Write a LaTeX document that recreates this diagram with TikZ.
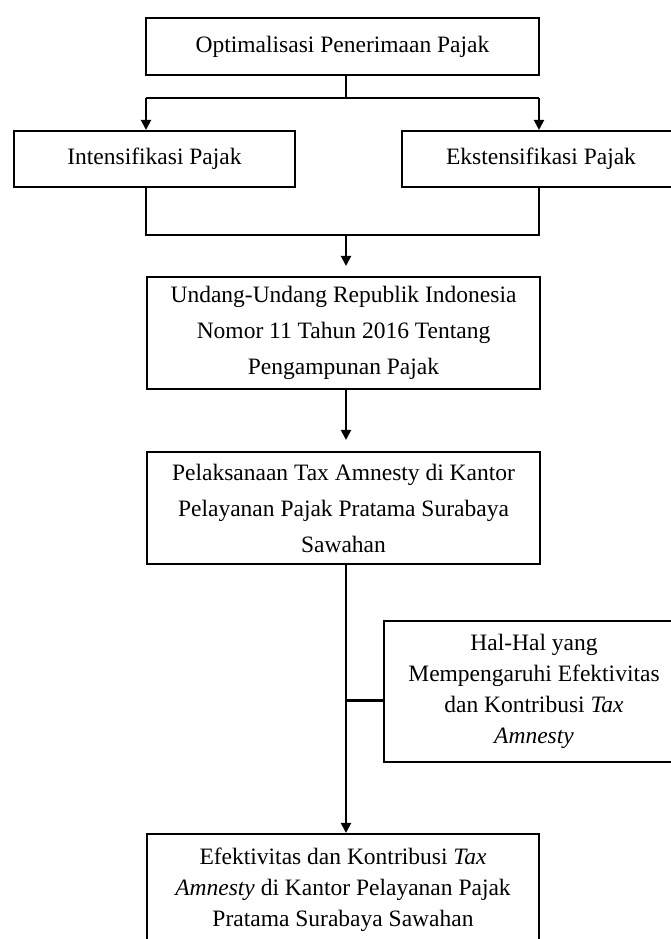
\documentclass[tikz,border=0pt]{standalone}
\usepackage{fontspec}
\setmainfont{Liberation Serif}
\usetikzlibrary{arrows.meta}
\tikzset{
  box/.style={draw, line width=2.1pt, align=center, inner sep=0pt, anchor=center,
    font=\fontsize{23.5}{36}\selectfont},
  boxb/.style={box, font=\fontsize{23.5}{31}\selectfont},
  conn/.style={line width=2.1pt},
  arr/.style={conn, -{Triangle[width=10pt,length=10pt]}}
}
\begin{document}
\begin{tikzpicture}[x=1pt,y=-1pt]
\useasboundingbox (0,0) rectangle (671,939);
\clip (0,0) rectangle (671,939);
\fill[white] (0,0) rectangle (671,939);
% nodes
\node[box, minimum width=393pt, minimum height=57pt] (top) at (342.5,46.5) {Optimalisasi Penerimaan Pajak};
\node[box, minimum width=281pt, minimum height=56pt] (intens) at (154.5,159) {Intensifikasi Pajak};
\node[box, minimum width=278pt, minimum height=56pt] (ekst) at (541,159) {Ekstensifikasi Pajak};
\node[box, minimum width=393pt, minimum height=112pt] (undang) at (343.5,333)
  {Undang-Undang Republik Indonesia\\Nomor 11 Tahun 2016 Tentang\\Pengampunan Pajak};
\node[box, minimum width=393pt, minimum height=112pt] (pelak) at (343.5,508)
  {Pelaksanaan Tax Amnesty di Kantor\\Pelayanan Pajak Pratama Surabaya\\Sawahan};
\node[boxb, minimum width=300pt, minimum height=141pt] (hal) at (534,691.5)
  {Hal-Hal yang\\Mempengaruhi Efektivitas\\dan Kontribusi \textit{Tax}\\\textit{Amnesty}};
\node[boxb, minimum width=392pt, minimum height=112pt] (efek) at (343,890)
  {Efektivitas dan Kontribusi \textit{Tax}\\\textit{Amnesty} di Kantor Pelayanan Pajak\\Pratama Surabaya Sawahan};
% junction coordinates
\coordinate (J1) at (346,98);
\coordinate (L1) at (146,98);
\coordinate (R1) at (539,98);
\coordinate (L2) at (146,235);
\coordinate (R2) at (539,235);
\coordinate (J2) at (346,235);
% connectors
\draw[conn] (top.south -| J1) -- (J1);
\draw[conn] (L1) -- (R1);
\draw[arr] (L1) -- (L1 |- intens.north);
\draw[arr] (R1) -- (R1 |- ekst.north);
\draw[conn] (intens.south -| L2) -- (L2) -- (R2) -- (ekst.south -| R2);
\draw[arr, shorten >=10pt] (J2) -- (J2 |- undang.north);
\draw[arr, shorten >=11pt] (undang.south -| J2) -- (pelak.north -| J2);
\draw[arr] (pelak.south -| J2) -- (efek.north -| J2);
\draw[conn] ([yshift=-9pt]hal.west) -- ([yshift=-9pt]hal.west -| J2);
\end{tikzpicture}
\end{document}
